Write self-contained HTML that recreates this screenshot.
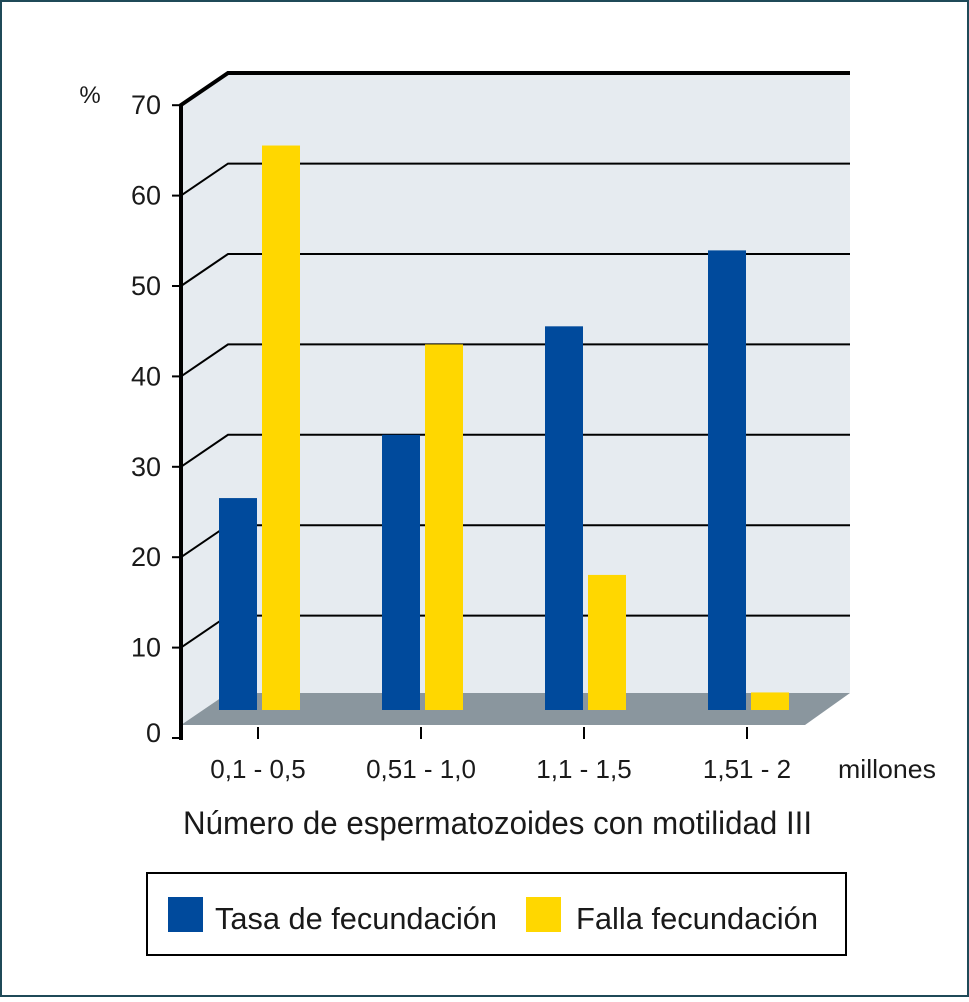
<!DOCTYPE html>
<html><head><meta charset="utf-8"><style>
html,body{margin:0;padding:0;background:#fff}
body{width:969px;height:997px;overflow:hidden}
svg text{font-family:"Liberation Sans Narrow","Liberation Sans",sans-serif;fill:#1a1a1a}
</style></head><body>
<svg id="chart" width="969" height="997" viewBox="0 0 969 997">
<rect x="1" y="1" width="967" height="995" fill="#fff" stroke="#1f4a58" stroke-width="2"/>
<polygon points="181,105 228,73 850,73 850,693 228,693 181,725" fill="#e6ebf0"/>
<g id="grid"></g>
<polygon points="181,725 228,693 850,693 805,725" fill="#8a969e"/>
<g id="bars"></g>
<polyline points="181,740 181,105 228,73 850,73" fill="none" stroke="#000" stroke-width="4"/>
<g id="ticks"></g>
<text x="90" y="103" font-size="24" text-anchor="middle">%</text>
<text x="838" y="778" font-size="26" textLength="98" lengthAdjust="spacingAndGlyphs">millones</text>
<text x="183" y="834" font-size="32" textLength="629" lengthAdjust="spacingAndGlyphs">Número de espermatozoides con motilidad III</text>
<g>
<rect x="147" y="873" width="699" height="82" fill="#fff" stroke="#000" stroke-width="2"/>
<rect x="168" y="897" width="35" height="35" fill="#004a9c"/>
<text x="215" y="929" font-size="31" textLength="282" lengthAdjust="spacingAndGlyphs">Tasa de fecundación</text>
<rect x="526" y="897" width="35" height="35" fill="#ffd700"/>
<text x="576" y="929" font-size="31" textLength="242" lengthAdjust="spacingAndGlyphs">Falla fecundación</text>
</g>
</svg>
<script>
const categories=["0,1 - 0,5","0,51 - 1,0","1,1 - 1,5","1,51 - 2"];
const tasa=[23,30,42,50.4];
const falla=[62,40,14.5,1.5];
const yTicks=[0,10,20,30,40,50,60,70];
const NS="http://www.w3.org/2000/svg";
function yBack(v){return 706-v*9.04;}
function yFront(v){return 738-v*9.04;}
function xGroup(i){return 219+i*163;}
function mk(tag,attrs,parent){const e=document.createElementNS(NS,tag);for(const k in attrs)e.setAttribute(k,attrs[k]);parent.appendChild(e);return e;}
const grid=document.getElementById('grid'),bars=document.getElementById('bars'),ticks=document.getElementById('ticks');
yTicks.forEach(v=>{
  if(v>0&&v<70){const yb=yBack(v);
    const g=mk('polyline',{points:`181,${yb+32} 228,${yb} 850,${yb}`,fill:'none',stroke:'#000','stroke-width':2},grid);
    
    }
  const yf=yFront(v);
  const t=mk('line',{x1:172,y1:yf,x2:181,y2:yf,stroke:'#000','stroke-width':2},ticks);
  
  
  const l=mk('text',{x:161,y:yf+(v==0?4:9),'font-size':27,'text-anchor':'end'},ticks);
  l.textContent=v;
  
  
});
categories.forEach((c,i)=>{
  const x=xGroup(i);
  const b=mk('rect',{x:x,y:yBack(tasa[i]),width:38,height:710-yBack(tasa[i]),fill:'#004a9c'},bars);
  
  
  const f=mk('rect',{x:x+43,y:yBack(falla[i]),width:38,height:710-yBack(falla[i]),fill:'#ffd700'},bars);
  
  
  const tk=mk('line',{x1:x+39,y1:727,x2:x+39,y2:739,stroke:'#000','stroke-width':2},ticks);
  
  
  const lb=mk('text',{x:x+39,y:778,'font-size':26,'text-anchor':'middle'},ticks);
  lb.textContent=c;
  
  
});
</script>
</body></html>
